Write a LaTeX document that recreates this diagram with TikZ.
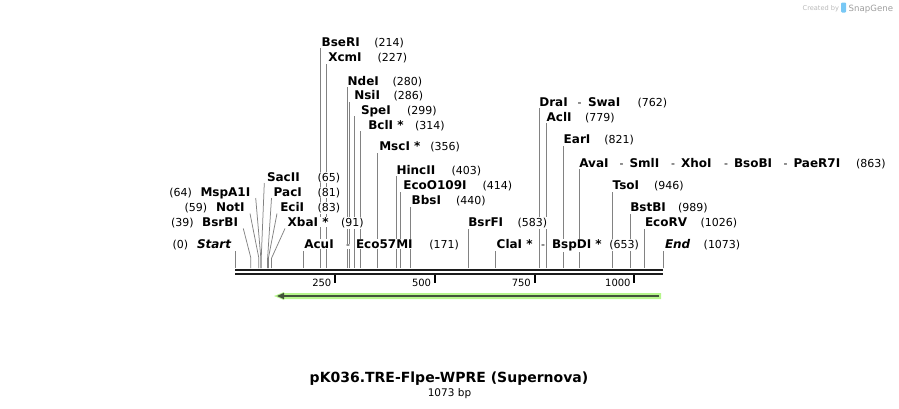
\documentclass[tikz,border=0pt]{standalone}
\usepackage{fontspec}
\setmainfont{DejaVu Sans}
\usetikzlibrary{calc}
\definecolor{sitegray}{RGB}{130,130,130}
\definecolor{mapblack}{RGB}{28,28,28}
\definecolor{featgreen}{RGB}{182,245,140}
\definecolor{featdark}{RGB}{66,82,58}
\definecolor{wmgray}{RGB}{185,185,185}
\definecolor{wmblue}{RGB}{120,200,245}
\pgfdeclarelayer{bg}
\pgfsetlayers{bg,main}
\begin{document}
\begin{tikzpicture}[x=1pt,y=-1pt,
  nm/.style={font=\bfseries\fontsize{12}{14}\selectfont, anchor=base west, fill=white, inner sep=0.8pt},
  nmi/.style={font=\bfseries\itshape\fontsize{12}{14}\selectfont, anchor=base west, fill=white, inner sep=0.8pt},
  nb/.style={font=\fontsize{11}{13}\selectfont, anchor=base west, fill=white, inner sep=0.8pt},
  dsh/.style={font=\fontsize{11}{13}\selectfont, anchor=base west, fill=white, inner sep=0.8pt},
  cut/.style={draw=sitegray, line width=0.75pt},
  tk/.style={font=\fontsize{10}{12}\selectfont, anchor=base east, inner sep=0pt},
]
\useasboundingbox (0,0) rectangle (899,408);

% ---------- site coordinates on the map ----------
\foreach \b in {0,39,59,64,65,81,83,91,171,214,227,280,286,299,314,356,403,414,440,583,653,762,779,821,863,946,989,1026,1073}{
  \coordinate (s\b) at ({235.3+\b*0.399},268);
  \coordinate (k\b) at ({235.3+\b*0.399},258);
}

% ---------- labels ----------
\node[nm] (BseRI) at (320.7,46) {BseRI};      \node[nb] (n214) at (373.3,46) {(214)};
\node[nm] (XcmI) at (327.3,61.5) {XcmI};      \node[nb] (n227) at (376.7,61.5) {(227)};
\node[nm] (NdeI) at (346.7,85) {NdeI};        \node[nb] (n280) at (391.7,85) {(280)};
\node[nm] (NsiI) at (353.3,99.5) {NsiI};      \node[nb] (n286) at (392.7,99.5) {(286)};
\node[nm] (SpeI) at (360,114) {SpeI};         \node[nb] (n299) at (406,114) {(299)};
\node[nm] (BclI) at (367.3,129) {BclI *};     \node[nb] (n314) at (414,129) {(314)};
\node[nm] (MscI) at (378.3,150.5) {MscI *};   \node[nb] (n356) at (429.3,150.5) {(356)};
\node[nm] (HincII) at (395.5,174) {HincII};   \node[nb] (n403) at (450.5,174) {(403)};
\node[nm] (EcoO) at (402.3,189.5) {EcoO109I}; \node[nb] (n414) at (481.7,189.5) {(414)};
\node[nm] (BbsI) at (410.7,204.5) {BbsI};     \node[nb] (n440) at (455,204.5) {(440)};
\node[nm] (BsrFI) at (467.3,226.5) {BsrFI};   \node[nb] (n583) at (516.7,226.5) {(583)};

\node[nm] (DraI) at (538.3,106) {DraI}; \node[dsh] (d1) at (576.5,106) {-};
\node[nm] (SwaI) at (587,106) {SwaI};   \node[nb] (n762) at (636.7,106) {(762)};
\node[nm] (AclI) at (545.7,121) {AclI};   \node[nb] (n779) at (584,121) {(779)};
\node[nm] (EarI) at (562.7,143.5) {EarI}; \node[nb] (n821) at (603.3,143.5) {(821)};
\node[nm] (AvaI) at (578.3,167) {AvaI};
\node[dsh] (d2) at (618.5,167) {-}; \node[nm] (SmlI) at (628.5,167) {SmlI};
\node[dsh] (d3) at (670,167) {-};   \node[nm] (XhoI) at (680,167) {XhoI};
\node[dsh] (d4) at (723,167) {-};   \node[nm] (BsoBI) at (733,167) {BsoBI};
\node[dsh] (d5) at (782.5,167) {-}; \node[nm] (PaeR7I) at (792.5,167) {PaeR7I};
\node[nb] (n863) at (855,167) {(863)};
\node[nm] (TsoI) at (611.7,189.5) {TsoI};   \node[nb] (n946) at (653,189.5) {(946)};
\node[nm] (BstBI) at (629.3,211.5) {BstBI}; \node[nb] (n989) at (677,211.5) {(989)};
\node[nm] (EcoRV) at (644,226.5) {EcoRV};   \node[nb] (n1026) at (699.5,226.5) {(1026)};
\node[nmi] (End) at (664,248.5) {End};      \node[nb] (n1073) at (702.7,248.5) {(1073)};
\node[nm] (ClaI) at (495.7,248.5) {ClaI *}; \node[dsh] (d6) at (540,248.5) {-};
\node[nm] (BspDI) at (551,248.5) {BspDI *}; \node[nb] (n653) at (608.3,248.5) {(653)};
\node[nm] (AcuI) at (303.3,248.5) {AcuI};   \node[dsh] (d7) at (345,248.5) {-};
\node[nm] (Eco57MI) at (355,248.5) {Eco57MI}; \node[nb] (n171) at (428.3,248.5) {(171)};

\node[nm] (SacII) at (266,181) {SacII};     \node[nb] (n65) at (316.7,181) {(65)};
\node[nm] (PacI) at (272.7,196) {PacI};     \node[nb] (n81) at (316.7,196) {(81)};
\node[nm] (EciI) at (279.3,211.5) {EciI};   \node[nb] (n83) at (316.7,211.5) {(83)};
\node[nm] (XbaI) at (286.7,226.5) {XbaI *}; \node[nb] (n91) at (340,226.5) {(91)};

\node[nb] (n64) at (168.3,196) {(64)};   \node[nm] (MspA1I) at (199.5,196) {MspA1I};
\node[nb] (n59) at (183.5,211.5) {(59)};   \node[nm] (NotI) at (215,211.5) {NotI};
\node[nb] (n39) at (170,226.5) {(39)};   \node[nm] (BsrBI) at (201.2,226.5) {BsrBI};
\node[nb] (n0) at (171.7,248.5) {(0)};   \node[nmi] (Start) at (196,248.5) {Start};

% ---------- connectors (behind the labels) ----------
\begin{pgfonlayer}{bg}
\foreach \s/\n in {214/BseRI,227/XcmI,280/NdeI,286/NsiI,299/SpeI,314/BclI,356/MscI,
  403/HincII,414/EcoO,440/BbsI,583/BsrFI,762/DraI,779/AclI,821/EarI,863/AvaI,
  946/TsoI,989/BstBI,1026/EcoRV,1073/End,653/ClaI,171/AcuI,0/Start}{
  \draw[cut] (s\s) -- ($(s\s |- \n.base)+(0,2)$);
}
\coordinate (eSacII) at (264.3,183);
\coordinate (ePacI) at (271.5,198);
\coordinate (eEciI) at (277,213.5);
\coordinate (eXbaI) at (285,228.5);
\coordinate (eMspA1I) at (255.7,198);
\coordinate (eNotI) at (250,213.5);
\coordinate (eBsrBI) at (243.3,228.5);
\draw[cut] (s65) -- (k65) -- (eSacII);
\draw[cut] (s81) -- (k81) -- (ePacI);
\draw[cut] (s83) -- (k83) -- (eEciI);
\draw[cut] (s91) -- (k91) -- (eXbaI);
\draw[cut] (s64) -- (k64) -- (eMspA1I);
\draw[cut] (s59) -- (k59) -- (eNotI);
\draw[cut] (s39) -- (k39) -- (eBsrBI);
\end{pgfonlayer}

% ---------- map ----------
\draw[mapblack, line width=2pt] (235,270) -- (663,270);
\draw[mapblack, line width=2pt] (235,274.3) -- (663,274.3);
\foreach \t in {250,500,750,1000}{
  \draw[black, line width=2pt] ({235.3+\t*0.399},275) -- ({235.3+\t*0.399},283);
  \node[tk] (t\t) at ({235.3+\t*0.399-3.5},286) {\t};
}

% ---------- feature arrow ----------
\fill[featgreen] (661,293) -- (284,293) -- (284,292) -- (274,296) -- (284,300) -- (284,299) -- (661,299) -- cycle;
\draw[featdark, line width=2.2pt] (659,296) -- (283,296);
\fill[featdark] (277,296) -- (284,292.8) -- (284,299.2) -- cycle;

% ---------- title ----------
\node[font=\bfseries\fontsize{14}{16}\selectfont, anchor=base, inner sep=0pt] (title) at (449,382) {pK036.TRE-Flpe-WPRE (Supernova)};
\node[font=\fontsize{10.5}{12}\selectfont, anchor=base, inner sep=0pt] (len) at (449.5,396) {1073 bp};

% ---------- watermark ----------
\node[font=\fontsize{6.6}{8}\selectfont, text=wmgray, anchor=base west, inner sep=0pt] (cb) at (802.5,10.5) {Created by};
\fill[wmblue, rounded corners=1pt] (841,2.5) rectangle (846,12.5);
\node[font=\fontsize{8.6}{10}\selectfont, text=wmgray!85!black, anchor=base west, inner sep=0pt] (sg) at (848.5,11) {SnapGene};
\end{tikzpicture}
\end{document}
